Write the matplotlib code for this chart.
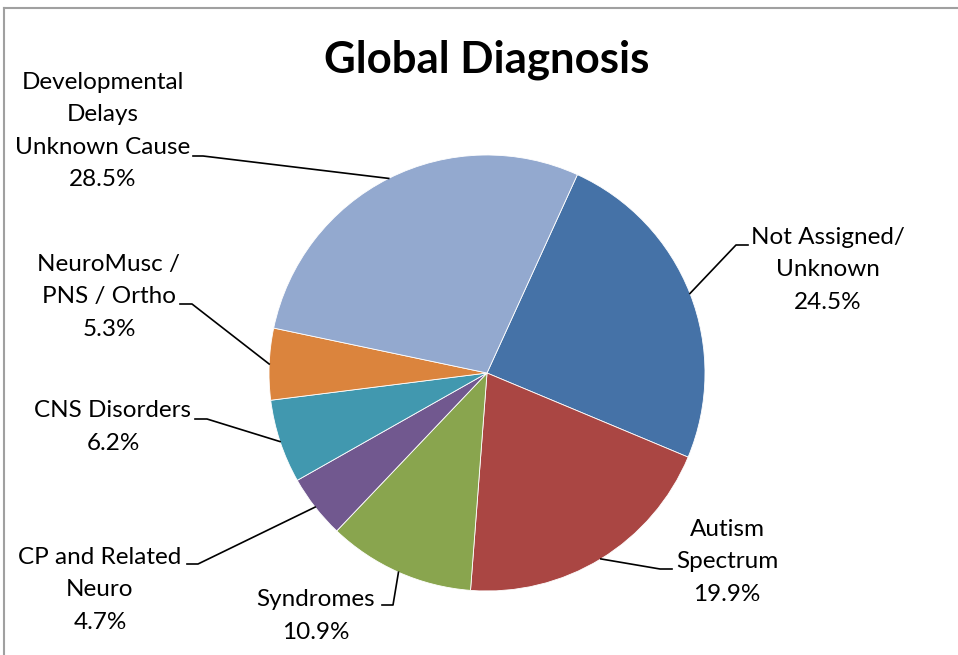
import numpy as np
import matplotlib.pyplot as plt
from matplotlib.lines import Line2D

# Global diagnosis breakdown (percent of patients)
categories = ["Not Assigned/\nUnknown", "Autism\nSpectrum", "Syndromes",
              "CP and Related\nNeuro", "CNS Disorders",
              "NeuroMusc /\nPNS / Ortho", "Developmental\nDelays\nUnknown Cause"]
percents = [24.5, 19.9, 10.9, 4.7, 6.2, 5.3, 28.5]
colors = ["#4572A7", "#AA4643", "#89A54E", "#71588F", "#4198AF", "#DB843D", "#93A9CF"]

W, H = 958, 655
plt.rcParams["font.family"] = ["Lato", "DejaVu Sans"]

fig = plt.figure(figsize=(W / 100, H / 100), dpi=100)
ax = fig.add_axes([0, 0, 1, 1])

cx, cy, r = 487, H - 373, 218
wedges, _ = ax.pie(percents, colors=colors, startangle=90 - 24.5, counterclock=False,
                   center=(cx, cy), radius=r, frame=True,
                   wedgeprops=dict(edgecolor="white", linewidth=0.6))
ax.set_xlim(0, W)
ax.set_ylim(0, H)
ax.set_aspect("equal")
ax.axis("off")

# outer frame (top and left edges visible)
ax.add_line(Line2D([4, 4], [0, H - 8], color="#a0a0a0", lw=1.5))
ax.add_line(Line2D([4, W], [H - 8, H - 8], color="#a0a0a0", lw=1.5))

ax.text(487, H - 72, "Global Diagnosis", ha="center", va="baseline",
        fontsize=31.5, fontweight="bold")

# label layout: text centre, elbow of leader, end of leader near text (pixels from top)
label_pos = [(828, 270), (727, 562), (316, 616), (100, 590), (113, 427), (109, 297), (103, 131)]
elbow = [(736, 245), (660, 569), (393, 605), (198, 564), (207, 419), (192, 304), (203, 156)]
lead_end = [(748, 245), (672, 569), (382, 605), (187, 564), (195, 419), (180, 304), (193, 156)]

for w, name, pct, (tx, ty), (ex, ey), (lx, ly) in zip(wedges, categories, percents,
                                                        label_pos, elbow, lead_end):
    mid = np.deg2rad((w.theta1 + w.theta2) / 2)
    px, py = cx + r * np.cos(mid), cy + r * np.sin(mid)
    ax.add_line(Line2D([px, ex, lx], [py, H - ey, H - ly], color="black", lw=1.2))
    ax.text(tx, H - ty, f"{name}\n{pct:.1f}%", ha="center", va="center",
            fontsize=17.5, linespacing=1.68)

fig.savefig("out.png", dpi=100)
